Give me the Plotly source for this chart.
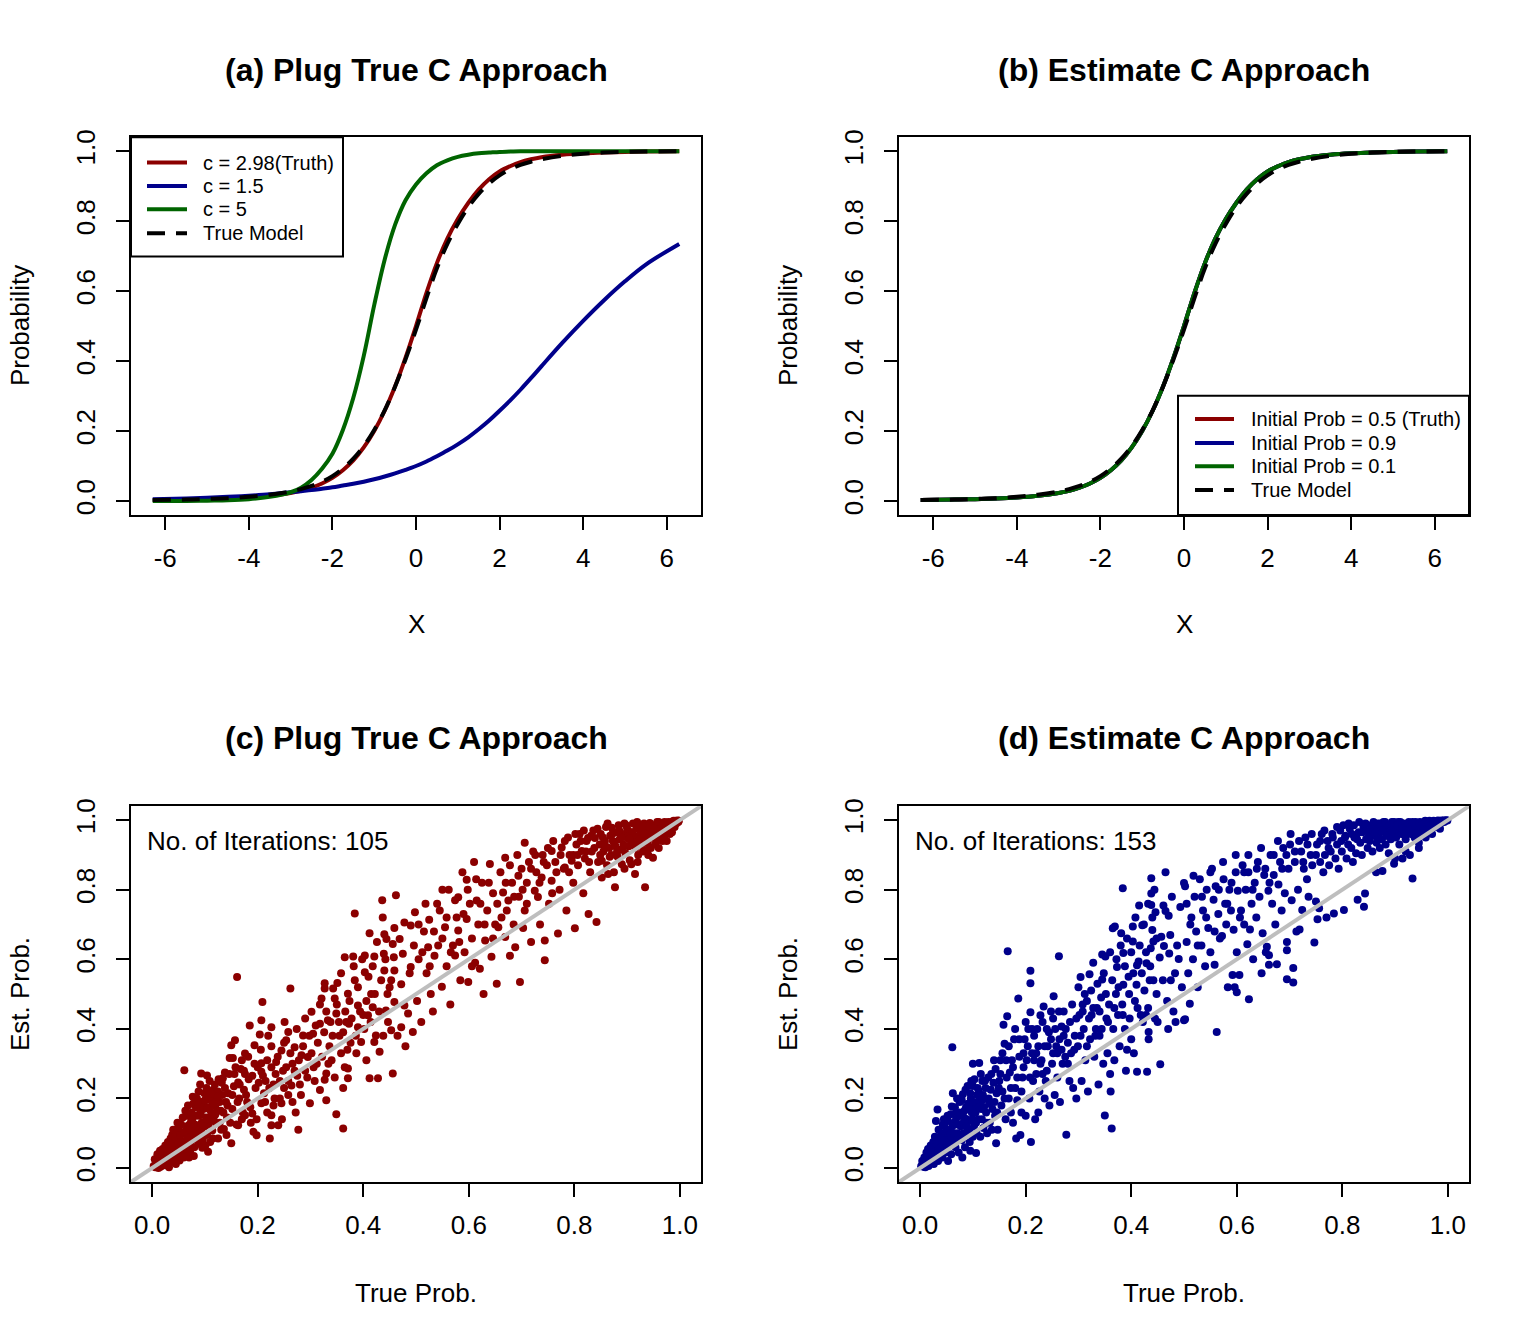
import plotly.graph_objects as go

# ---------------- data ----------------
curve_x = [-6.3, -5.5, -5.0, -4.5, -4.0, -3.5, -3.0, -2.75, -2.5, -2.25, -2.0, -1.75, -1.5, -1.25,
           -1.0, -0.75, -0.5, -0.25, 0.0, 0.25, 0.5, 0.75, 1.0, 1.25, 1.5, 1.75, 2.0, 2.25, 2.5,
           2.75, 3.0, 3.5, 4.0, 4.5, 5.0, 5.5, 6.3]

a_c298 = [0.003, 0.004, 0.005, 0.007, 0.010, 0.015, 0.023, 0.029, 0.038, 0.050, 0.066, 0.088, 0.116,
          0.153, 0.200, 0.258, 0.328, 0.410, 0.500, 0.595, 0.680, 0.750, 0.806, 0.852, 0.890, 0.920,
          0.942, 0.957, 0.969, 0.977, 0.983, 0.990, 0.994, 0.996, 0.998, 0.999, 1.000]
a_c15 = [0.005, 0.007, 0.009, 0.012, 0.015, 0.019, 0.025, 0.028, 0.031, 0.035, 0.039, 0.044, 0.049,
         0.055, 0.062, 0.070, 0.079, 0.089, 0.100, 0.113, 0.128, 0.144, 0.162, 0.182, 0.205, 0.230,
         0.258, 0.287, 0.318, 0.351, 0.385, 0.452, 0.515, 0.574, 0.628, 0.676, 0.735]
a_c5 = [0.000, 0.000, 0.001, 0.002, 0.005, 0.012, 0.025, 0.038, 0.060, 0.092, 0.135, 0.203, 0.295,
        0.415, 0.560, 0.690, 0.790, 0.860, 0.905, 0.937, 0.960, 0.974, 0.984, 0.990, 0.994, 0.996,
        0.998, 0.999, 1.000, 1.000, 1.000, 1.000, 1.000, 1.000, 1.000, 1.000, 1.000]
true_model = [0.003, 0.004, 0.006, 0.008, 0.012, 0.018, 0.027, 0.034, 0.043, 0.055, 0.071, 0.093,
              0.121, 0.157, 0.203, 0.259, 0.327, 0.405, 0.490, 0.580, 0.665, 0.735, 0.792, 0.840,
              0.878, 0.908, 0.931, 0.948, 0.961, 0.970, 0.977, 0.987, 0.993, 0.996, 0.998, 0.999,
              1.000]

# panel (b): the three fits coincide on the picture
b_init05 = [0.003, 0.004, 0.005, 0.007, 0.010, 0.015, 0.023, 0.029, 0.038, 0.050, 0.066, 0.088,
            0.116, 0.153, 0.200, 0.258, 0.328, 0.410, 0.500, 0.595, 0.680, 0.750, 0.806, 0.852,
            0.890, 0.920, 0.942, 0.957, 0.969, 0.977, 0.983, 0.990, 0.994, 0.996, 0.998, 0.999,
            1.000]
b_init09 = list(b_init05)
b_init01 = list(b_init05)

# (true prob, estimated prob) pairs
c_points_1 = [
    (0.003, 0.006), (0.006, 0.002), (0.008, 0.015), (0.010, 0.007), (0.012, 0.025), (0.014, 0.012),
    (0.016, 0.004), (0.018, 0.035), (0.020, 0.018), (0.022, 0.028), (0.024, 0.009), (0.026, 0.045),
    (0.028, 0.022), (0.030, 0.038), (0.032, 0.014), (0.034, 0.058), (0.036, 0.030), (0.038, 0.047),
    (0.040, 0.020), (0.042, 0.072), (0.044, 0.040), (0.046, 0.056), (0.048, 0.028), (0.050, 0.088),
    (0.052, 0.050), (0.054, 0.066), (0.056, 0.035), (0.058, 0.100), (0.060, 0.060), (0.062, 0.078),
    (0.064, 0.042), (0.066, 0.120), (0.068, 0.070), (0.070, 0.090), (0.072, 0.050), (0.074, 0.135),
    (0.076, 0.082), (0.078, 0.104), (0.080, 0.060), (0.082, 0.150), (0.084, 0.094), (0.086, 0.118),
    (0.088, 0.070), (0.090, 0.170), (0.092, 0.108), (0.094, 0.130), (0.096, 0.082), (0.098, 0.190),
    (0.100, 0.120), (0.102, 0.145), (0.104, 0.095), (0.106, 0.047), (0.108, 0.205), (0.110, 0.135),
    (0.112, 0.160), (0.114, 0.108), (0.116, 0.225), (0.118, 0.150), (0.120, 0.180), (0.061, 0.281),
    (0.093, 0.272), (0.104, 0.266), (0.020, 0.055), (0.035, 0.085), (0.050, 0.115), (0.065, 0.150),
    (0.078, 0.185), (0.088, 0.220), (0.045, 0.012), (0.070, 0.030), (0.095, 0.058), (0.110, 0.075),
    (0.122, 0.200), (0.125, 0.220), (0.125, 0.085), (0.128, 0.130), (0.130, 0.165), (0.132, 0.245),
    (0.134, 0.258), (0.136, 0.112), (0.138, 0.275), (0.140, 0.190), (0.142, 0.145), (0.144, 0.215),
    (0.147, 0.316), (0.150, 0.353), (0.150, 0.071), (0.152, 0.170), (0.153, 0.316), (0.155, 0.235),
    (0.156, 0.270), (0.157, 0.367), (0.160, 0.125), (0.161, 0.549), (0.163, 0.246), (0.163, 0.123),
    (0.165, 0.200), (0.168, 0.285), (0.170, 0.310), (0.172, 0.160), (0.174, 0.225), (0.176, 0.329),
    (0.176, 0.270), (0.176, 0.152), (0.180, 0.190), (0.183, 0.255), (0.185, 0.410), (0.187, 0.130),
    (0.190, 0.157), (0.192, 0.104), (0.194, 0.353), (0.196, 0.230), (0.198, 0.094), (0.200, 0.290),
    (0.204, 0.384), (0.207, 0.425), (0.207, 0.301), (0.207, 0.277), (0.207, 0.186), (0.209, 0.477),
    (0.212, 0.215), (0.215, 0.250), (0.218, 0.160), (0.220, 0.380), (0.223, 0.085), (0.226, 0.405),
    (0.226, 0.290), (0.226, 0.152), (0.226, 0.123), (0.230, 0.240), (0.232, 0.200), (0.235, 0.305),
    (0.239, 0.123), (0.242, 0.200), (0.245, 0.338), (0.245, 0.186), (0.248, 0.280), (0.250, 0.230),
    (0.251, 0.420), (0.254, 0.367), (0.258, 0.391), (0.258, 0.210), (0.262, 0.516), (0.264, 0.237),
    (0.266, 0.300), (0.270, 0.347), (0.272, 0.160), (0.275, 0.265), (0.277, 0.110), (0.280, 0.240),
    (0.283, 0.324), (0.286, 0.381), (0.290, 0.280), (0.295, 0.319), (0.299, 0.186),
    (0.302, 0.449), (0.305, 0.386), (0.308, 0.250), (0.312, 0.300), (0.318, 0.415), (0.318, 0.224),
    (0.321, 0.487), (0.327, 0.531), (0.327, 0.516), (0.327, 0.254), (0.330, 0.272), (0.330, 0.195),
    (0.333, 0.425), (0.336, 0.350), (0.340, 0.310), (0.343, 0.516), (0.346, 0.487), (0.349, 0.444),
    (0.349, 0.155), (0.351, 0.532), (0.355, 0.380), (0.358, 0.330), (0.362, 0.230), (0.362, 0.114),
    (0.365, 0.606), (0.365, 0.290), (0.368, 0.420), (0.371, 0.501), (0.371, 0.286), (0.371, 0.258),
    (0.373, 0.415), (0.376, 0.360), (0.381, 0.608), (0.384, 0.540), (0.384, 0.732), (0.387, 0.330),
    (0.390, 0.467), (0.390, 0.405), (0.396, 0.362), (0.400, 0.440), (0.403, 0.611), (0.403, 0.563),
    (0.406, 0.310), (0.409, 0.439), (0.412, 0.675), (0.412, 0.258), (0.415, 0.500), (0.418, 0.462),
    (0.421, 0.608), (0.421, 0.362), (0.424, 0.381), (0.428, 0.258), (0.431, 0.334), (0.436, 0.770),
    (0.437, 0.720), (0.439, 0.616), (0.440, 0.672), (0.440, 0.568), (0.443, 0.453), (0.444, 0.658),
    (0.447, 0.420), (0.450, 0.520), (0.453, 0.540), (0.453, 0.396), (0.456, 0.644), (0.456, 0.272),
    (0.458, 0.606), (0.459, 0.690), (0.459, 0.568), (0.459, 0.477), (0.462, 0.784), (0.465, 0.380),
    (0.469, 0.658), (0.472, 0.528), (0.472, 0.405), (0.475, 0.616), (0.478, 0.706), (0.478, 0.467),
    (0.480, 0.350), (0.485, 0.444), (0.488, 0.560), (0.490, 0.697), (0.490, 0.578), (0.494, 0.391),
    (0.496, 0.640), (0.498, 0.735),
    (0.502, 0.480), (0.505, 0.600), (0.510, 0.420), (0.515, 0.680), (0.520, 0.560), (0.523, 0.635),
    (0.525, 0.714), (0.528, 0.500), (0.532, 0.450), (0.535, 0.610), (0.540, 0.760), (0.545, 0.740),
    (0.549, 0.521), (0.550, 0.660), (0.555, 0.692), (0.558, 0.580), (0.562, 0.800), (0.565, 0.470),
    (0.570, 0.640), (0.574, 0.611), (0.577, 0.720), (0.580, 0.778), (0.580, 0.683), (0.584, 0.540),
    (0.588, 0.850), (0.592, 0.620), (0.596, 0.829), (0.596, 0.716), (0.599, 0.535), (0.602, 0.760),
    (0.606, 0.660), (0.610, 0.880), (0.612, 0.590), (0.615, 0.769), (0.618, 0.700), (0.621, 0.573),
    (0.625, 0.820), (0.628, 0.500), (0.631, 0.654), (0.635, 0.740), (0.640, 0.874), (0.643, 0.607),
    (0.646, 0.790), (0.650, 0.700), (0.653, 0.530), (0.656, 0.692), (0.660, 0.850), (0.665, 0.792),
    (0.669, 0.892), (0.669, 0.664), (0.672, 0.740), (0.675, 0.769), (0.678, 0.610), (0.682, 0.820),
    (0.685, 0.700), (0.688, 0.635), (0.692, 0.900), (0.695, 0.780), (0.697, 0.535), (0.700, 0.860),
    (0.703, 0.690), (0.706, 0.935), (0.706, 0.740), (0.710, 0.820), (0.714, 0.880), (0.718, 0.650),
    (0.722, 0.910), (0.725, 0.797), (0.728, 0.850), (0.731, 0.779), (0.735, 0.700), (0.738, 0.835),
    (0.740, 0.900), (0.744, 0.654), (0.744, 0.597), (0.748, 0.870), (0.752, 0.760), (0.757, 0.826),
    (0.757, 0.911), (0.760, 0.940), (0.764, 0.880), (0.769, 0.674), (0.772, 0.800), (0.776, 0.921),
    (0.780, 0.860), (0.782, 0.864), (0.785, 0.740), (0.788, 0.950), (0.791, 0.900), (0.795, 0.883),
    (0.798, 0.820), (0.801, 0.689), (0.804, 0.930), (0.807, 0.870), (0.810, 0.960), (0.814, 0.911),
    (0.817, 0.790), (0.820, 0.890), (0.823, 0.940), (0.826, 0.949), (0.827, 0.730), (0.830, 0.850),
    (0.833, 0.910), (0.836, 0.970), (0.839, 0.949), (0.842, 0.707), (0.845, 0.880), (0.848, 0.930),
    (0.850, 0.960), (0.852, 0.883), (0.852, 0.835), (0.855, 0.910), (0.858, 0.940), (0.860, 0.980),
    (0.862, 0.870), (0.864, 0.845), (0.866, 0.920), (0.868, 0.955), (0.870, 0.900), (0.871, 0.978),
    (0.873, 0.940), (0.875, 0.850), (0.877, 0.807), (0.878, 0.925), (0.880, 0.965), (0.882, 0.895),
    (0.884, 0.985), (0.886, 0.945), (0.888, 0.915), (0.890, 0.873), (0.891, 0.960), (0.893, 0.930),
    (0.895, 0.990), (0.897, 0.905), (0.899, 0.950), (0.900, 0.975), (0.902, 0.959), (0.903, 0.925),
    (0.905, 0.885), (0.907, 0.965), (0.908, 0.873), (0.909, 0.940), (0.911, 0.990), (0.913, 0.955),
    (0.915, 0.845), (0.916, 0.920), (0.918, 0.975), (0.920, 0.945), (0.921, 0.900), (0.923, 0.985),
    (0.925, 0.960), (0.927, 0.930), (0.929, 0.970), (0.930, 0.910), (0.932, 0.990), (0.934, 0.807),
    (0.935, 0.950), (0.937, 0.975), (0.939, 0.935), (0.941, 0.960), (0.943, 0.992), (0.945, 0.920),
    (0.947, 0.970), (0.949, 0.892), (0.950, 0.950), (0.952, 0.985), (0.953, 0.930), (0.955, 0.965),
    (0.957, 0.995), (0.959, 0.945), (0.961, 0.975), (0.963, 0.960), (0.965, 0.990), (0.967, 0.940),
    (0.969, 0.975), (0.971, 0.995), (0.972, 0.959), (0.974, 0.985), (0.976, 0.965), (0.978, 0.995),
    (0.980, 0.987), (0.982, 0.975), (0.984, 0.995), (0.986, 0.985), (0.988, 0.998), (0.990, 0.990),
    (0.992, 0.998), (0.994, 0.995), (0.996, 0.999), (0.998, 0.998), (0.920, 0.880), (0.960, 0.920),
    (0.940, 0.900), (0.895, 0.860), (0.970, 0.945), (0.985, 0.965), (0.975, 0.940),
]
c_points_2 = [
    (0.005, 0.025), (0.010, 0.040), (0.015, 0.050), (0.018, 0.010), (0.025, 0.065), (0.030, 0.075),
    (0.032, 0.002), (0.038, 0.095), (0.040, 0.110), (0.044, 0.090), (0.048, 0.130), (0.052, 0.022),
    (0.055, 0.125), (0.058, 0.145), (0.060, 0.030), (0.063, 0.165), (0.066, 0.100), (0.068, 0.180),
    (0.071, 0.125), (0.073, 0.075), (0.075, 0.160), (0.077, 0.205), (0.079, 0.035), (0.081, 0.125),
    (0.083, 0.175), (0.085, 0.200), (0.087, 0.090), (0.089, 0.150), (0.091, 0.240), (0.093, 0.190),
    (0.095, 0.100), (0.097, 0.170), (0.099, 0.215), (0.101, 0.065), (0.103, 0.230), (0.105, 0.175),
    (0.107, 0.125), (0.109, 0.250), (0.111, 0.195), (0.113, 0.140), (0.115, 0.085), (0.117, 0.200),
    (0.119, 0.240), (0.121, 0.130), (0.123, 0.165), (0.126, 0.255), (0.128, 0.190), (0.131, 0.110),
    (0.133, 0.210), (0.135, 0.160), (0.138, 0.230), (0.141, 0.095), (0.143, 0.180), (0.146, 0.270),
    (0.148, 0.130), (0.012, 0.000), (0.022, 0.008), (0.028, 0.048), (0.036, 0.062), (0.042, 0.018),
    (0.046, 0.100), (0.050, 0.070), (0.054, 0.095), (0.057, 0.055), (0.062, 0.105), (0.067, 0.085),
    (0.072, 0.110), (0.076, 0.140), (0.080, 0.095), (0.084, 0.120), (0.088, 0.185), (0.092, 0.155),
    (0.096, 0.125), (0.100, 0.195), (0.104, 0.140), (0.108, 0.170), (0.112, 0.215), (0.116, 0.185),
    (0.120, 0.155), (0.124, 0.205),
    (0.152, 0.210), (0.158, 0.290), (0.162, 0.190), (0.166, 0.240), (0.170, 0.140), (0.174, 0.280),
    (0.178, 0.210), (0.182, 0.320), (0.186, 0.175), (0.190, 0.265), (0.194, 0.300), (0.198, 0.140),
    (0.202, 0.245), (0.206, 0.340), (0.210, 0.265), (0.214, 0.190), (0.218, 0.310), (0.222, 0.230),
    (0.226, 0.350), (0.230, 0.180), (0.234, 0.270), (0.238, 0.320), (0.242, 0.250), (0.246, 0.140),
    (0.250, 0.360), (0.254, 0.290), (0.258, 0.250), (0.262, 0.330), (0.266, 0.190), (0.270, 0.280),
    (0.274, 0.400), (0.278, 0.310), (0.282, 0.210), (0.286, 0.350), (0.290, 0.430), (0.294, 0.260),
    (0.298, 0.380), (0.302, 0.330), (0.306, 0.290), (0.310, 0.410), (0.314, 0.360), (0.318, 0.470),
    (0.322, 0.320), (0.326, 0.390), (0.330, 0.450), (0.334, 0.300), (0.338, 0.420), (0.342, 0.380),
    (0.346, 0.260), (0.350, 0.470), (0.354, 0.420), (0.358, 0.560), (0.362, 0.390), (0.366, 0.450),
    (0.370, 0.340), (0.374, 0.480), (0.378, 0.430), (0.382, 0.580), (0.386, 0.380), (0.390, 0.520),
    (0.394, 0.450), (0.398, 0.600), (0.402, 0.400), (0.406, 0.480), (0.410, 0.550), (0.414, 0.420),
    (0.418, 0.580), (0.422, 0.500), (0.426, 0.650), (0.430, 0.450), (0.434, 0.540), (0.438, 0.380),
    (0.442, 0.600), (0.446, 0.500),
    (0.505, 0.700), (0.512, 0.620), (0.518, 0.760), (0.526, 0.580), (0.534, 0.680), (0.542, 0.640),
    (0.550, 0.800), (0.558, 0.720), (0.566, 0.620), (0.574, 0.770), (0.582, 0.650), (0.590, 0.730),
    (0.598, 0.800), (0.606, 0.580), (0.614, 0.830), (0.622, 0.760), (0.630, 0.700), (0.638, 0.820),
    (0.646, 0.660), (0.654, 0.760), (0.662, 0.720), (0.670, 0.820), (0.678, 0.870), (0.686, 0.780),
    (0.694, 0.840), (0.702, 0.800), (0.710, 0.760), (0.718, 0.860), (0.726, 0.900), (0.734, 0.820),
    (0.742, 0.880), (0.750, 0.920), (0.758, 0.790), (0.766, 0.850), (0.774, 0.900), (0.782, 0.940),
    (0.790, 0.850), (0.798, 0.900),
    (0.802, 0.960), (0.806, 0.900), (0.812, 0.940), (0.818, 0.970), (0.822, 0.910), (0.828, 0.880),
    (0.832, 0.955), (0.838, 0.920), (0.844, 0.975), (0.849, 0.900), (0.854, 0.950), (0.859, 0.925),
    (0.863, 0.990), (0.867, 0.895), (0.872, 0.960), (0.876, 0.935), (0.881, 0.910), (0.885, 0.970),
    (0.889, 0.950), (0.894, 0.925), (0.898, 0.985), (0.904, 0.945), (0.910, 0.965), (0.914, 0.930),
    (0.919, 0.995), (0.924, 0.945), (0.928, 0.980), (0.933, 0.960), (0.938, 0.915), (0.942, 0.980),
    (0.946, 0.950), (0.951, 0.975), (0.956, 0.940), (0.960, 0.995), (0.964, 0.975), (0.968, 0.955),
    (0.973, 0.985), (0.977, 0.975), (0.981, 0.960), (0.986, 0.995), (0.990, 0.980), (0.993, 0.990),
    (0.997, 0.995),
]

# (true prob, estimated prob) pairs
d_points_1 = [
    (0.002, 0.005), (0.005, 0.012), (0.008, 0.003), (0.010, 0.020), (0.012, 0.010), (0.014, 0.030),
    (0.016, 0.006), (0.018, 0.040), (0.020, 0.018), (0.022, 0.050), (0.024, 0.028), (0.026, 0.012),
    (0.028, 0.062), (0.030, 0.035), (0.030, 0.135), (0.032, 0.048), (0.033, 0.168), (0.034, 0.020),
    (0.036, 0.080), (0.038, 0.055), (0.040, 0.100), (0.042, 0.030), (0.044, 0.068), (0.046, 0.120),
    (0.048, 0.045), (0.050, 0.090), (0.052, 0.150), (0.053, 0.020), (0.055, 0.070), (0.057, 0.110),
    (0.059, 0.040), (0.060, 0.177), (0.061, 0.347), (0.062, 0.215), (0.063, 0.085), (0.065, 0.130),
    (0.067, 0.060), (0.069, 0.160), (0.071, 0.100), (0.073, 0.045), (0.075, 0.190), (0.077, 0.120),
    (0.079, 0.080), (0.081, 0.212), (0.083, 0.145), (0.085, 0.060), (0.087, 0.175), (0.089, 0.105),
    (0.090, 0.236), (0.092, 0.135), (0.094, 0.075), (0.096, 0.200), (0.098, 0.160), (0.100, 0.236),
    (0.100, 0.300), (0.102, 0.120), (0.104, 0.180), (0.106, 0.043), (0.108, 0.210), (0.110, 0.140),
    (0.111, 0.222), (0.112, 0.302), (0.114, 0.090), (0.116, 0.170), (0.118, 0.250), (0.120, 0.115),
    (0.025, 0.075), (0.045, 0.140), (0.070, 0.200), (0.015, 0.055), (0.080, 0.030), (0.095, 0.050),
    (0.123, 0.251), (0.125, 0.160), (0.127, 0.100), (0.130, 0.200), (0.132, 0.130), (0.135, 0.270),
    (0.137, 0.170), (0.140, 0.310), (0.142, 0.150), (0.144, 0.071), (0.145, 0.215), (0.147, 0.110),
    (0.150, 0.250), (0.152, 0.310), (0.154, 0.180), (0.156, 0.220), (0.158, 0.412), (0.160, 0.357),
    (0.162, 0.140), (0.163, 0.310), (0.165, 0.436), (0.166, 0.623), (0.168, 0.200), (0.170, 0.275),
    (0.172, 0.160), (0.174, 0.310), (0.176, 0.130), (0.178, 0.370), (0.180, 0.230), (0.182, 0.085),
    (0.184, 0.195), (0.186, 0.487), (0.188, 0.370), (0.190, 0.095), (0.192, 0.160), (0.194, 0.260),
    (0.196, 0.330), (0.198, 0.370), (0.200, 0.150), (0.202, 0.310), (0.205, 0.400), (0.207, 0.200),
    (0.209, 0.448), (0.209, 0.567), (0.209, 0.531), (0.210, 0.075), (0.212, 0.400), (0.214, 0.250),
    (0.216, 0.310), (0.218, 0.140), (0.220, 0.330), (0.222, 0.400), (0.224, 0.160), (0.226, 0.220),
    (0.228, 0.439), (0.230, 0.310), (0.232, 0.270), (0.234, 0.464), (0.236, 0.200), (0.238, 0.250),
    (0.240, 0.400), (0.242, 0.350), (0.245, 0.180), (0.248, 0.370), (0.250, 0.300), (0.252, 0.430),
    (0.253, 0.494), (0.255, 0.210), (0.258, 0.350), (0.260, 0.330), (0.263, 0.450), (0.263, 0.609),
    (0.265, 0.190), (0.268, 0.407), (0.270, 0.300), (0.272, 0.380), (0.275, 0.320), (0.277, 0.096),
    (0.280, 0.360), (0.283, 0.250), (0.286, 0.330), (0.290, 0.230), (0.293, 0.380), (0.296, 0.200),
    (0.299, 0.350),
    (0.302, 0.440), (0.304, 0.549), (0.306, 0.250), (0.308, 0.470), (0.310, 0.400), (0.313, 0.310),
    (0.316, 0.480), (0.318, 0.220), (0.321, 0.557), (0.322, 0.370), (0.325, 0.440), (0.328, 0.590),
    (0.330, 0.320), (0.333, 0.400), (0.335, 0.460), (0.338, 0.240), (0.340, 0.380), (0.343, 0.490),
    (0.345, 0.614), (0.345, 0.542), (0.347, 0.300), (0.350, 0.151), (0.351, 0.608), (0.353, 0.430),
    (0.355, 0.330), (0.358, 0.470), (0.360, 0.270), (0.361, 0.220), (0.363, 0.114), (0.365, 0.689),
    (0.366, 0.400), (0.368, 0.310), (0.369, 0.694), (0.371, 0.500), (0.373, 0.578), (0.375, 0.440),
    (0.378, 0.350), (0.381, 0.675), (0.383, 0.470), (0.384, 0.804), (0.385, 0.618), (0.385, 0.527),
    (0.388, 0.400), (0.390, 0.280), (0.392, 0.340), (0.395, 0.550), (0.397, 0.430), (0.400, 0.370),
    (0.403, 0.694), (0.403, 0.651), (0.405, 0.330), (0.407, 0.480), (0.410, 0.527), (0.411, 0.583),
    (0.411, 0.277), (0.414, 0.594), (0.415, 0.755), (0.418, 0.440), (0.421, 0.698), (0.422, 0.420),
    (0.425, 0.510), (0.428, 0.440), (0.429, 0.589), (0.430, 0.277), (0.432, 0.460), (0.433, 0.391),
    (0.433, 0.370), (0.435, 0.540), (0.437, 0.632), (0.438, 0.833), (0.438, 0.789), (0.438, 0.756),
    (0.440, 0.684), (0.442, 0.651), (0.442, 0.540), (0.445, 0.430), (0.446, 0.735), (0.448, 0.500),
    (0.450, 0.420), (0.454, 0.605), (0.455, 0.298), (0.457, 0.665), (0.460, 0.540), (0.461, 0.755),
    (0.462, 0.638), (0.465, 0.850), (0.465, 0.739), (0.468, 0.480), (0.470, 0.400), (0.471, 0.725),
    (0.472, 0.617), (0.474, 0.670), (0.475, 0.540), (0.477, 0.780), (0.480, 0.450), (0.483, 0.560),
    (0.484, 0.420), (0.487, 0.640), (0.490, 0.601), (0.493, 0.750), (0.496, 0.520), (0.500, 0.819),
    (0.500, 0.425),
    (0.502, 0.428), (0.502, 0.810), (0.505, 0.650), (0.508, 0.560), (0.511, 0.472), (0.514, 0.720),
    (0.517, 0.600), (0.520, 0.780), (0.523, 0.680), (0.526, 0.520), (0.530, 0.830), (0.533, 0.640),
    (0.536, 0.740), (0.540, 0.580), (0.543, 0.800), (0.546, 0.690), (0.550, 0.620), (0.553, 0.860),
    (0.556, 0.771), (0.558, 0.584), (0.560, 0.810), (0.562, 0.391), (0.565, 0.730), (0.568, 0.660),
    (0.572, 0.667), (0.575, 0.830), (0.578, 0.760), (0.580, 0.700), (0.583, 0.520), (0.586, 0.800),
    (0.589, 0.740), (0.592, 0.555), (0.594, 0.685), (0.596, 0.520), (0.598, 0.850), (0.600, 0.505),
    (0.600, 0.620), (0.602, 0.797), (0.605, 0.555), (0.608, 0.740), (0.611, 0.870), (0.614, 0.700),
    (0.617, 0.800), (0.620, 0.643), (0.622, 0.850), (0.623, 0.485), (0.625, 0.686), (0.628, 0.760),
    (0.631, 0.600), (0.634, 0.820), (0.637, 0.720), (0.640, 0.880), (0.643, 0.780), (0.647, 0.560),
    (0.649, 0.675), (0.652, 0.842), (0.655, 0.620), (0.657, 0.636), (0.660, 0.797), (0.661, 0.612),
    (0.661, 0.584), (0.664, 0.900), (0.667, 0.760), (0.670, 0.842), (0.673, 0.700), (0.676, 0.586),
    (0.679, 0.815), (0.682, 0.880), (0.685, 0.740), (0.688, 0.920), (0.691, 0.790), (0.695, 0.650),
    (0.695, 0.626), (0.695, 0.543), (0.698, 0.860),
    (0.701, 0.930), (0.704, 0.770), (0.707, 0.575), (0.707, 0.533), (0.710, 0.880), (0.713, 0.680),
    (0.716, 0.800), (0.719, 0.686), (0.722, 0.910), (0.724, 0.742), (0.727, 0.860), (0.730, 0.950),
    (0.733, 0.830), (0.736, 0.780), (0.740, 0.900), (0.743, 0.870), (0.747, 0.648), (0.750, 0.766),
    (0.752, 0.930), (0.753, 0.715), (0.756, 0.747), (0.758, 0.880), (0.761, 0.960), (0.764, 0.850),
    (0.767, 0.900), (0.770, 0.720), (0.772, 0.940), (0.775, 0.870), (0.778, 0.910), (0.781, 0.960),
    (0.784, 0.732), (0.787, 0.890), (0.790, 0.930), (0.793, 0.860), (0.796, 0.970), (0.799, 0.910),
    (0.803, 0.742), (0.805, 0.950), (0.808, 0.890), (0.811, 0.930), (0.814, 0.975), (0.817, 0.920),
    (0.820, 0.880), (0.823, 0.950), (0.826, 0.905), (0.829, 0.771), (0.831, 0.965), (0.834, 0.935),
    (0.837, 0.900), (0.840, 0.980), (0.841, 0.751), (0.843, 0.789), (0.845, 0.945), (0.848, 0.920),
    (0.850, 0.965), (0.852, 0.940), (0.855, 0.985), (0.857, 0.910), (0.860, 0.955), (0.862, 0.975),
    (0.864, 0.850), (0.865, 0.935), (0.867, 0.990), (0.869, 0.960), (0.871, 0.920), (0.873, 0.980),
    (0.875, 0.945), (0.876, 0.854), (0.878, 0.995), (0.880, 0.965), (0.882, 0.930), (0.884, 0.985),
    (0.886, 0.955), (0.888, 0.905), (0.890, 0.975), (0.892, 0.945), (0.894, 0.995), (0.896, 0.965),
    (0.898, 0.875), (0.900, 0.985), (0.902, 0.950), (0.904, 0.970), (0.906, 0.995), (0.908, 0.930),
    (0.910, 0.980), (0.912, 0.960), (0.914, 0.890), (0.916, 0.990), (0.918, 0.965), (0.920, 0.945),
    (0.922, 0.985), (0.924, 0.970), (0.926, 0.995), (0.928, 0.900), (0.930, 0.960), (0.932, 0.985),
    (0.933, 0.832), (0.935, 0.975), (0.937, 0.950), (0.939, 0.995), (0.941, 0.970), (0.943, 0.985),
    (0.945, 0.935), (0.947, 0.995), (0.949, 0.975), (0.951, 0.960), (0.953, 0.990), (0.955, 0.980),
    (0.957, 0.998), (0.959, 0.965), (0.961, 0.990), (0.963, 0.980), (0.965, 0.998), (0.967, 0.970),
    (0.969, 0.992), (0.971, 0.985), (0.973, 0.998), (0.975, 0.980), (0.977, 0.995), (0.979, 0.990),
    (0.981, 0.999), (0.983, 0.988), (0.985, 0.998), (0.987, 0.995), (0.989, 0.999), (0.991, 0.996),
    (0.993, 0.999), (0.995, 0.998), (0.997, 1.000), (0.999, 0.999), (0.958, 0.950), (0.945, 0.920),
    (0.970, 0.960), (0.985, 0.975), (0.920, 0.910), (0.900, 0.890),
]
d_points_2 = [
    (0.004, 0.020), (0.008, 0.030), (0.012, 0.045), (0.016, 0.020), (0.020, 0.065), (0.024, 0.045),
    (0.028, 0.090), (0.032, 0.070), (0.035, 0.110), (0.038, 0.030), (0.041, 0.085), (0.043, 0.125),
    (0.047, 0.060), (0.050, 0.105), (0.053, 0.135), (0.056, 0.090), (0.058, 0.155), (0.061, 0.120),
    (0.064, 0.070), (0.066, 0.175), (0.068, 0.140), (0.071, 0.125), (0.074, 0.160), (0.076, 0.095),
    (0.079, 0.195), (0.082, 0.130), (0.084, 0.165), (0.086, 0.225), (0.088, 0.140), (0.091, 0.185),
    (0.093, 0.110), (0.095, 0.215), (0.097, 0.250), (0.099, 0.140), (0.101, 0.190), (0.103, 0.255),
    (0.105, 0.160), (0.107, 0.100), (0.109, 0.230), (0.113, 0.195), (0.115, 0.270), (0.117, 0.140),
    (0.119, 0.210), (0.121, 0.175), (0.124, 0.230), (0.126, 0.130), (0.129, 0.260), (0.131, 0.185),
    (0.134, 0.225), (0.136, 0.110), (0.139, 0.245), (0.141, 0.190), (0.143, 0.285), (0.146, 0.160),
    (0.149, 0.230), (0.010, 0.002), (0.018, 0.012), (0.026, 0.025), (0.034, 0.045), (0.040, 0.060),
    (0.046, 0.080), (0.052, 0.065), (0.058, 0.100), (0.064, 0.100), (0.070, 0.080), (0.076, 0.150),
    (0.082, 0.100), (0.088, 0.120), (0.094, 0.170), (0.100, 0.090), (0.106, 0.130), (0.112, 0.175),
    (0.118, 0.195),
    (0.152, 0.270), (0.156, 0.330), (0.160, 0.200), (0.164, 0.260), (0.168, 0.350), (0.172, 0.230),
    (0.176, 0.290), (0.180, 0.400), (0.184, 0.260), (0.188, 0.320), (0.192, 0.220), (0.196, 0.290),
    (0.200, 0.420), (0.204, 0.350), (0.208, 0.260), (0.212, 0.330), (0.216, 0.380), (0.220, 0.270),
    (0.224, 0.350), (0.228, 0.300), (0.232, 0.420), (0.236, 0.350), (0.240, 0.280), (0.244, 0.390),
    (0.248, 0.450), (0.252, 0.330), (0.256, 0.400), (0.260, 0.260), (0.264, 0.370), (0.268, 0.340),
    (0.272, 0.450), (0.276, 0.400), (0.280, 0.300), (0.284, 0.420), (0.288, 0.470), (0.292, 0.340),
    (0.296, 0.430), (0.300, 0.520), (0.304, 0.380), (0.308, 0.450), (0.312, 0.500), (0.316, 0.350),
    (0.320, 0.430), (0.324, 0.510), (0.328, 0.460), (0.332, 0.380), (0.336, 0.530), (0.340, 0.450),
    (0.344, 0.400), (0.348, 0.560), (0.352, 0.500), (0.356, 0.420), (0.360, 0.620), (0.364, 0.540),
    (0.368, 0.460), (0.372, 0.600), (0.376, 0.520), (0.380, 0.640), (0.384, 0.440), (0.388, 0.580),
    (0.392, 0.660), (0.396, 0.500), (0.400, 0.620), (0.404, 0.560), (0.408, 0.720), (0.412, 0.460),
    (0.416, 0.640), (0.420, 0.560), (0.424, 0.700), (0.428, 0.620), (0.432, 0.760), (0.436, 0.580),
    (0.440, 0.720), (0.444, 0.800), (0.448, 0.660),
    (0.505, 0.760), (0.512, 0.700), (0.518, 0.840), (0.526, 0.640), (0.534, 0.780), (0.542, 0.720),
    (0.550, 0.850), (0.558, 0.680), (0.566, 0.800), (0.574, 0.880), (0.582, 0.760), (0.590, 0.820),
    (0.598, 0.900), (0.606, 0.720), (0.614, 0.850), (0.622, 0.900), (0.630, 0.800), (0.638, 0.860),
    (0.646, 0.920), (0.654, 0.860), (0.662, 0.820), (0.670, 0.900), (0.678, 0.940), (0.686, 0.860),
    (0.694, 0.900), (0.702, 0.960), (0.710, 0.910), (0.718, 0.940), (0.726, 0.880), (0.734, 0.930),
    (0.742, 0.960), (0.750, 0.900), (0.758, 0.940), (0.766, 0.970), (0.774, 0.920), (0.782, 0.950),
    (0.790, 0.980), (0.798, 0.940),
    (0.802, 0.985), (0.806, 0.955), (0.812, 0.990), (0.818, 0.960), (0.822, 0.985), (0.828, 0.945),
    (0.832, 0.995), (0.838, 0.965), (0.844, 0.990), (0.849, 0.950), (0.854, 0.975), (0.859, 0.995),
    (0.863, 0.965), (0.867, 0.945), (0.872, 0.990), (0.876, 0.970), (0.881, 0.995), (0.885, 0.955),
    (0.889, 0.985), (0.894, 0.970), (0.898, 0.995), (0.904, 0.985), (0.910, 0.995), (0.914, 0.975),
    (0.919, 0.955), (0.924, 0.990), (0.928, 0.975), (0.933, 0.995), (0.938, 0.985), (0.942, 0.960),
    (0.946, 0.990), (0.951, 0.985), (0.956, 0.970), (0.960, 0.995), (0.964, 0.990), (0.968, 0.985),
    (0.973, 0.995), (0.977, 0.985), (0.981, 0.995), (0.986, 0.990), (0.990, 0.998), (0.993, 0.995),
]
c_points = c_points_1 + c_points_2
d_points = d_points_1 + d_points_2

x_ticks_curve = [-6, -4, -2, 0, 2, 4, 6]
x_ticklabels_curve = ["-6", "-4", "-2", "0", "2", "4", "6"]
prob_ticks = [0.0, 0.2, 0.4, 0.6, 0.8, 1.0]
prob_ticklabels = ["0.0", "0.2", "0.4", "0.6", "0.8", "1.0"]
iterations_c = 105
iterations_d = 153
legend_a_labels = ["c = 2.98(Truth)", "c = 1.5", "c = 5", "True Model"]
legend_b_labels = ["Initial Prob = 0.5 (Truth)", "Initial Prob = 0.9", "Initial Prob = 0.1", "True Model"]

# ---------------- style ----------------
DARKRED = "#8B0000"
DARKBLUE = "#00008B"
DARKGREEN = "#006400"
GRAY = "#BEBEBE"
FONT = "Liberation Sans, Arial, Helvetica, sans-serif"
W, H = 1536, 1344
LW = 4
DASH = "18px,11px"

def px_x(p):
    return p / W

def px_y(p):
    return 1 - p / H

fig = go.Figure()

def add_curve(xref, yref, y, color, name, dash=None):
    fig.add_trace(go.Scatter(
        x=curve_x, y=y, mode="lines", name=name,
        line=dict(color=color, width=LW, shape="spline", smoothing=1.0, dash=dash),
        xaxis=xref, yaxis=yref, showlegend=False))

# Panel (a)
add_curve("x", "y", a_c298, DARKRED, legend_a_labels[0])
add_curve("x", "y", a_c15, DARKBLUE, legend_a_labels[1])
add_curve("x", "y", a_c5, DARKGREEN, legend_a_labels[2])
add_curve("x", "y", true_model, "black", legend_a_labels[3], dash=DASH)

# Panel (b)
add_curve("x2", "y2", b_init05, DARKRED, legend_b_labels[0])
add_curve("x2", "y2", b_init09, DARKBLUE, legend_b_labels[1])
add_curve("x2", "y2", b_init01, DARKGREEN, legend_b_labels[2])
add_curve("x2", "y2", true_model, "black", legend_b_labels[3], dash=DASH)

# Panels (c) and (d)
for pts, color, xr, yr in [(c_points, DARKRED, "x3", "y3"), (d_points, DARKBLUE, "x4", "y4")]:
    fig.add_trace(go.Scatter(
        x=[p[0] for p in pts], y=[p[1] for p in pts], mode="markers",
        marker=dict(color=color, size=8, line=dict(width=0)),
        xaxis=xr, yaxis=yr, showlegend=False))
    fig.add_trace(go.Scatter(
        x=[-0.04, 1.04], y=[-0.04, 1.04], mode="lines",
        line=dict(color=GRAY, width=4), xaxis=xr, yaxis=yr, showlegend=False))

# ---------------- axes ----------------
top_dom = [px_y(510), px_y(130)]
bot_dom = [px_y(1181), px_y(803)]
left_dom = [px_x(131), px_x(701)]
right_dom = [px_x(899), px_x(1469)]

axis_common = dict(
    showline=True, linecolor="black", linewidth=2, mirror=True,
    ticks="outside", ticklen=13, tickwidth=2, tickcolor="black",
    showgrid=False, zeroline=False,
    tickfont=dict(family=FONT, size=26, color="black"),
)

def xax(dom, rng, tv, tt, anchor):
    return dict(domain=dom, range=rng, tickvals=tv, ticktext=tt, anchor=anchor,
                ticklabelstandoff=6, **axis_common)

def yax(dom, rng, tv, tt, anchor):
    return dict(domain=dom, range=rng, tickvals=tv, ticktext=tt, anchor=anchor,
                tickangle=-90, ticklabelstandoff=11, **axis_common)

curve_xr = [-6.82, 6.82]
prob_r = [-0.04, 1.04]

fig.update_layout(
    xaxis=xax(left_dom, curve_xr, x_ticks_curve, x_ticklabels_curve, "y"),
    yaxis=yax(top_dom, prob_r, prob_ticks, prob_ticklabels, "x"),
    xaxis2=xax(right_dom, curve_xr, x_ticks_curve, x_ticklabels_curve, "y2"),
    yaxis2=yax(top_dom, prob_r, prob_ticks, prob_ticklabels, "x2"),
    xaxis3=xax(left_dom, prob_r, prob_ticks, prob_ticklabels, "y3"),
    yaxis3=yax(bot_dom, prob_r, prob_ticks, prob_ticklabels, "x3"),
    xaxis4=xax(right_dom, prob_r, prob_ticks, prob_ticklabels, "y4"),
    yaxis4=yax(bot_dom, prob_r, prob_ticks, prob_ticklabels, "x4"),
)

# ---------------- text & legends ----------------
ann = []
shapes = []

def text(x, y, s, size=26, bold=False, angle=0, xanchor="center"):
    ann.append(dict(x=px_x(x), y=px_y(y), xref="paper", yref="paper",
                    text=("<b>%s</b>" % s) if bold else s,
                    showarrow=False, xanchor=xanchor, yanchor="middle", textangle=angle,
                    font=dict(family=FONT, size=size, color="black")))

def legend_box(x0, y0, x1, y1, line_x0, line_x1, text_x, rows, labels, colors, dashes):
    shapes.append(dict(type="rect", xref="paper", yref="paper",
                       x0=px_x(x0), x1=px_x(x1), y0=px_y(y1), y1=px_y(y0),
                       line=dict(color="black", width=2), fillcolor="white", layer="above"))
    for ry, lab, col, dsh in zip(rows, labels, colors, dashes):
        shapes.append(dict(type="line", xref="paper", yref="paper",
                           x0=px_x(line_x0), x1=px_x(line_x1), y0=px_y(ry), y1=px_y(ry),
                           line=dict(color=col, width=LW, dash=dsh), layer="above"))
        text(text_x, ry, lab, size=20, xanchor="left")

legend_colors = [DARKRED, DARKBLUE, DARKGREEN, "black"]
legend_dashes = ["solid", "solid", "solid", DASH]
legend_box(131, 130, 343, 250, 147, 187, 201, [155.5, 179, 202.5, 226.5],
           legend_a_labels, legend_colors, legend_dashes)
legend_box(1178, 390, 1469, 510, 1195, 1234, 1249, [413.5, 437.5, 461, 485],
           legend_b_labels, legend_colors, legend_dashes)

text(416, 62, "(a) Plug True C Approach", 32, True)
text(1184, 62, "(b) Estimate C Approach", 32, True)
text(416, 734, "(c) Plug True C Approach", 32, True)
text(1184, 734, "(d) Estimate C Approach", 32, True)
text(416, 620, "X")
text(1184, 620, "X")
text(416, 1293, "True Prob.")
text(1184, 1293, "True Prob.")
text(20, 320, "Probability", angle=-90)
text(788, 320, "Probability", angle=-90)
text(20, 992, "Est. Prob.", angle=-90)
text(788, 992, "Est. Prob.", angle=-90)
text(145, 838, "No. of Iterations: %d" % iterations_c, xanchor="left")
text(913, 838, "No. of Iterations: %d" % iterations_d, xanchor="left")

fig.update_layout(
    annotations=ann, shapes=shapes, width=W, height=H, autosize=False,
    margin=dict(l=0, r=0, t=0, b=0),
    paper_bgcolor="white", plot_bgcolor="white",
    font=dict(family=FONT, color="black"), showlegend=False,
)

fig.write_html("out.html", config={"displayModeBar": False},
               post_script="document.body.style.margin='0px';")
